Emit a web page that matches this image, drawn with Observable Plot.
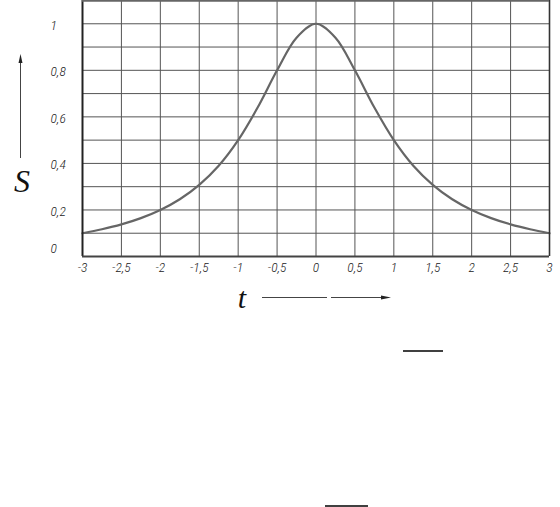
<!DOCTYPE html>
<html>
<head>
<meta charset="utf-8">
<script src="https://cdn.jsdelivr.net/npm/d3@7"></script>
<script src="https://cdn.jsdelivr.net/npm/@observablehq/plot@0.6"></script>
<style>
  html, body { margin: 0; padding: 0; background: #fff; }
  #chart { width: 560px; height: 507px; }
</style>
</head>
<body>
<div id="chart"></div>
<script>
// Data
const tValues = [-3, -2.75, -2.5, -2.25, -2, -1.75, -1.5, -1.25, -1, -0.75, -0.5, -0.25, 0, 0.25, 0.5, 0.75, 1, 1.25, 1.5, 1.75, 2, 2.25, 2.5, 2.75, 3];
const sValues = [0.10, 0.117, 0.138, 0.165, 0.20, 0.246, 0.308, 0.39, 0.50, 0.64, 0.80, 0.94, 1.00, 0.94, 0.80, 0.64, 0.50, 0.39, 0.308, 0.246, 0.20, 0.165, 0.138, 0.117, 0.10];
const xTicks = [-3, -2.5, -2, -1.5, -1, -0.5, 0, 0.5, 1, 1.5, 2, 2.5, 3];
const yGrid = [0, 0.1, 0.2, 0.3, 0.4, 0.5, 0.6, 0.7, 0.8, 0.9, 1.0, 1.1];
const yTicks = [0, 0.2, 0.4, 0.6, 0.8, 1];
const xName = "t";
const yName = "S";

const curve = tValues.map((t, i) => ({t, s: sValues[i]}));
const fmt = v => String(v).replace(".", ",");
const tickFont = '"Roboto Condensed", "DejaVu Sans Condensed", sans-serif';
const serifFont = '"Liberation Serif", "Times New Roman", serif';
const labStyle = {fontSize: 13.5, fontStyle: "italic", fill: "#222", className: "ticklab"};

const plot = Plot.plot({
  width: 560,
  height: 507,
  marginLeft: 82,
  marginRight: 11,
  marginTop: 0,
  marginBottom: 251,
  x: {domain: [-3, 3], axis: null},
  y: {domain: [0, 1.1], axis: null},
  marks: [
    Plot.ruleX(xTicks, {stroke: "#555", strokeWidth: 1}),
    Plot.ruleY(yGrid, {stroke: "#555", strokeWidth: 1}),
    Plot.line(curve, {x: "t", y: "s", stroke: "#666", strokeWidth: 2.2, curve: "catmull-rom"}),
    Plot.ruleX([-3], {stroke: "#222", strokeWidth: 2}),
    Plot.ruleX([3], {stroke: "#333", strokeWidth: 1.6}),
    Plot.ruleY([0], {stroke: "#444", strokeWidth: 2.2}),
    Plot.ruleY([1.1], {stroke: "#666", strokeWidth: 2.5}),
    Plot.text(xTicks, {x: d => d, frameAnchor: "bottom", dy: 15, text: fmt, ...labStyle}),
    Plot.text(yTicks.filter(d => d > 0), {y: d => d, frameAnchor: "left", dx: -32, dy: 1.5, textAnchor: "start", text: fmt, ...labStyle}),
    Plot.text(yTicks.filter(d => d === 0), {y: d => d, frameAnchor: "left", dx: -32, dy: -8, textAnchor: "start", text: fmt, ...labStyle})
  ]
});

const svg = d3.select(plot);
svg.selectAll(".ticklab text").style("font-family", tickFont).style("font-weight", "300");
const deco = svg.append("g");
// Axis name S with upward arrow
deco.append("line").attr("x1", 20.5).attr("x2", 20.5).attr("y1", 158).attr("y2", 62)
  .attr("stroke", "#444").attr("stroke-width", 1);
deco.append("path").attr("d", "M20.5,54 L18.5,63 L22.5,63 Z").attr("fill", "#222");
deco.append("text").text(yName).attr("x", 22).attr("y", 192).attr("text-anchor", "middle")
  .style("font-family", serifFont).style("font-style", "italic")
  .style("font-size", "32px").attr("fill", "#111");
// Axis name t with right arrow
deco.append("line").attr("x1", 262).attr("x2", 327).attr("y1", 297.5).attr("y2", 297.5)
  .attr("stroke", "#444").attr("stroke-width", 1);
deco.append("line").attr("x1", 331).attr("x2", 383).attr("y1", 297.5).attr("y2", 297.5)
  .attr("stroke", "#444").attr("stroke-width", 1);
deco.append("path").attr("d", "M391,297.5 L381,295.5 L381,299.5 Z").attr("fill", "#222");
deco.append("text").text(xName).attr("x", 242).attr("y", 308).attr("text-anchor", "middle")
  .style("font-family", serifFont).style("font-style", "italic")
  .style("font-size", "30px").attr("fill", "#111");
// Fraction bars below the chart
deco.append("line").attr("x1", 403).attr("x2", 443).attr("y1", 351).attr("y2", 351)
  .attr("stroke", "#000").attr("stroke-width", 1.5);
deco.append("line").attr("x1", 325).attr("x2", 368).attr("y1", 506).attr("y2", 506)
  .attr("stroke", "#000").attr("stroke-width", 1.5);

document.getElementById("chart").appendChild(plot);
</script>
</body>
</html>
